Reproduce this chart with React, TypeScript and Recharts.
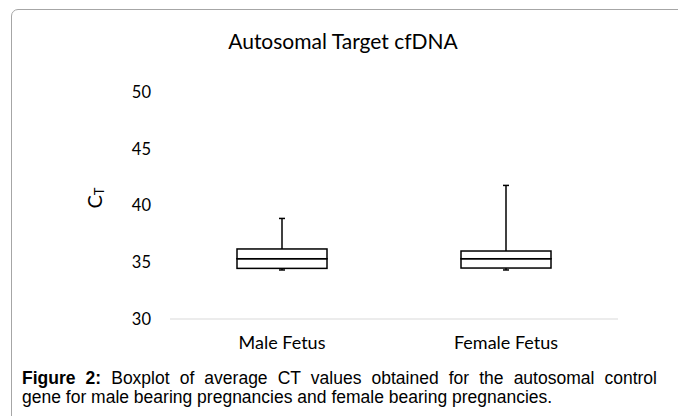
import React from "react";
import { ComposedChart, Bar, XAxis, YAxis } from "recharts";

const categories = ["Male Fetus", "Female Fetus"];
const minValues = [34.32, 34.32];
const q1Values = [34.46, 34.49];
const medianValues = [35.31, 35.31];
const q3Values = [36.17, 35.99];
const maxValues = [38.86, 41.77];
const yTicks = [30, 35, 40, 45, 50];

const data = categories.map((name, i) => ({
  name,
  base: minValues[i],
  lowWhisker: q1Values[i] - minValues[i],
  lowBox: medianValues[i] - q1Values[i],
  highBox: q3Values[i] - medianValues[i],
  highWhisker: maxValues[i] - q3Values[i],
}));

const STROKE = "#000000";
const CAP = 6;

const LowWhiskerShape = (props: any) => {
  const { x, y, width, height } = props;
  const cx = x + width / 2;
  return (
    <g>
      <line x1={cx} x2={cx} y1={y} y2={y + height} stroke={STROKE} strokeWidth={1.5} />
      <line x1={cx - CAP / 2} x2={cx + CAP / 2} y1={y + height} y2={y + height} stroke={STROKE} strokeWidth={1.5} />
    </g>
  );
};

const HighWhiskerShape = (props: any) => {
  const { x, y, width, height } = props;
  const cx = x + width / 2;
  return (
    <g>
      <line x1={cx} x2={cx} y1={y} y2={y + height} stroke={STROKE} strokeWidth={1.5} />
      <line x1={cx - CAP / 2} x2={cx + CAP / 2} y1={y} y2={y} stroke={STROKE} strokeWidth={1.5} />
    </g>
  );
};

const BoxShape = (props: any) => {
  const { x, y, width, height } = props;
  return <rect x={x} y={y} width={width} height={height} fill="#ffffff" stroke={STROKE} strokeWidth={1.5} />;
};

const YLabel = () => {
  const cx = 94;
  const cy = 198;
  return (
    <text
      x={cx}
      y={cy}
      transform={`rotate(-90, ${cx}, ${cy})`}
      textAnchor="middle"
      dominantBaseline="central"
      fontFamily="Lato, sans-serif"
      fontSize={20}
      fill="#000"
    >
      C<tspan fontSize={13} dy={5}>T</tspan>
    </text>
  );
};

export default function App() {
  return (
    <div
      style={{
        position: "absolute",
        left: 0,
        top: 0,
        width: 678,
        height: 416,
        overflow: "hidden",
        background: "#ffffff",
      }}
    >
      <div
        style={{
          position: "absolute",
          left: 11,
          top: 8.5,
          width: 720,
          height: 520,
          border: "1.5px solid #a6a6a6",
          borderRadius: 7,
          boxSizing: "border-box",
        }}
      />
      <div
        style={{
          position: "absolute",
          left: 0,
          top: 28,
          width: 686,
          textAlign: "center",
          fontFamily: "Lato, sans-serif",
          fontSize: 21,
          color: "#000",
        }}
      >
        Autosomal Target cfDNA
      </div>
      <div style={{ position: "absolute", left: 0, top: 0 }}>
        <ComposedChart
          width={678}
          height={416}
          data={data}
          margin={{ top: 92, right: 60, bottom: 57, left: 110 }}
          barCategoryGap={0}
        >
          <XAxis
            dataKey="name"
            tickLine={false}
            axisLine={{ stroke: "#d9d9d9", strokeWidth: 1 }}
            tick={{ fontFamily: "Lato, sans-serif", fontSize: 18, fill: "#000" }}
            tickMargin={11}
            height={40}
          />
          <YAxis
            type="number"
            domain={[30, 50]}
            ticks={yTicks}
            allowDataOverflow
            tickLine={false}
            axisLine={false}
            width={60}
            tickSize={0}
            tickMargin={19}
            tick={{ fontFamily: "Lato, sans-serif", fontSize: 16.5, fill: "#000" }}
            label={<YLabel />}
          />
          <Bar dataKey="base" stackId="a" fill="none" barSize={90} isAnimationActive={false} />
          <Bar dataKey="lowWhisker" stackId="a" barSize={90} shape={<LowWhiskerShape />} isAnimationActive={false} />
          <Bar dataKey="lowBox" stackId="a" barSize={90} shape={<BoxShape />} isAnimationActive={false} />
          <Bar dataKey="highBox" stackId="a" barSize={90} shape={<BoxShape />} isAnimationActive={false} />
          <Bar dataKey="highWhisker" stackId="a" barSize={90} shape={<HighWhiskerShape />} isAnimationActive={false} />
        </ComposedChart>
      </div>
      <div
        style={{
          position: "absolute",
          left: 22,
          top: 369,
          width: 635,
          fontFamily: "'Liberation Sans', Arial, sans-serif",
          fontSize: 17.5,
          lineHeight: "19px",
          color: "#000",
        }}
      >
        <div style={{ textAlign: "justify", textAlignLast: "justify", whiteSpace: "nowrap" }}>
          <b>Figure 2:</b> Boxplot of average CT values obtained for the autosomal control
        </div>
        <div style={{ textAlign: "left", whiteSpace: "nowrap" }}>
          gene for male bearing pregnancies and female bearing pregnancies.
        </div>
      </div>
    </div>
  );
}
